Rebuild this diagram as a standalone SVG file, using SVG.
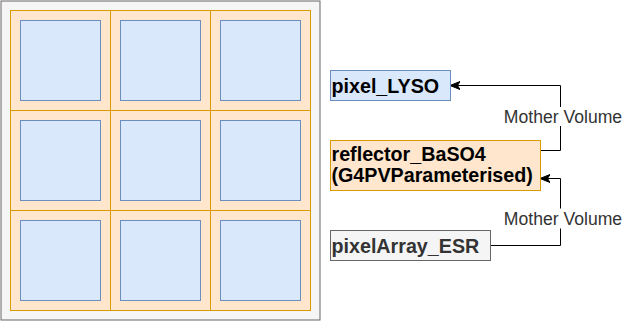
<svg xmlns="http://www.w3.org/2000/svg" width="625" height="321" viewBox="0 0 625 321">
  <style>
    .frame { fill: #f5f5f5; stroke: #666666; stroke-width: 1; }
    .cell { fill: #ffe6cc; stroke: #d79b00; stroke-width: 1; }
    .crystal { fill: #dae8fc; stroke: #6c8ebf; stroke-width: 1; }
    .box-blue { fill: #dae8fc; stroke: #6c8ebf; }
    .box-orange { fill: #ffe6cc; stroke: #d79b00; }
    .box-gray { fill: #f5f5f5; stroke: #666666; }
    .name { font-family: "Liberation Sans", Arial, sans-serif; font-size: 19.7px; font-weight: bold; fill: #000000; }
    .name-gray { fill: #333333; }
    .edge { fill: none; stroke: #000000; stroke-width: 1; }
    .edge-label-bg { fill: #ffffff; }
    .edge-label { font-family: "Liberation Sans", Arial, sans-serif; font-size: 17.6px; fill: #333333; text-anchor: middle; }
  </style>
  <defs>
    <marker id="arrow" viewBox="0 0 10 10" refX="9" refY="5" markerWidth="10" markerHeight="10" markerUnits="userSpaceOnUse" orient="auto">
      <path d="M0,1 L10,5 L0,9 L2.5,5 Z" fill="#000000" stroke="#000000" stroke-width="1"/>
    </marker>
  </defs>

  <!-- pixel array cross-section -->
  <g id="array">
    <rect class="frame" x="1" y="1" width="319" height="319"/>
    <g id="cells">
      <rect class="cell" x="10.5" y="10.5" width="100" height="100"/>
      <rect class="cell" x="110.5" y="10.5" width="100" height="100"/>
      <rect class="cell" x="210.5" y="10.5" width="100" height="100"/>
      <rect class="cell" x="10.5" y="110.5" width="100" height="100"/>
      <rect class="cell" x="110.5" y="110.5" width="100" height="100"/>
      <rect class="cell" x="210.5" y="110.5" width="100" height="100"/>
      <rect class="cell" x="10.5" y="210.5" width="100" height="100"/>
      <rect class="cell" x="110.5" y="210.5" width="100" height="100"/>
      <rect class="cell" x="210.5" y="210.5" width="100" height="100"/>
    </g>
    <g id="crystals">
      <rect class="crystal" x="20.5" y="20.5" width="80" height="80"/>
      <rect class="crystal" x="120.5" y="20.5" width="80" height="80"/>
      <rect class="crystal" x="220.5" y="20.5" width="80" height="80"/>
      <rect class="crystal" x="20.5" y="120.5" width="80" height="80"/>
      <rect class="crystal" x="120.5" y="120.5" width="80" height="80"/>
      <rect class="crystal" x="220.5" y="120.5" width="80" height="80"/>
      <rect class="crystal" x="20.5" y="220.5" width="80" height="80"/>
      <rect class="crystal" x="120.5" y="220.5" width="80" height="80"/>
      <rect class="crystal" x="220.5" y="220.5" width="80" height="80"/>
    </g>
  </g>

  <!-- connectors -->
  <g id="connectors">
    <path class="edge" d="M540.5,150.5 H560.5 V85.5 H451" marker-end="url(#arrow)"/>
    <path class="edge" d="M490.5,245.5 H560.5 V178.5 H541" marker-end="url(#arrow)"/>
    <rect class="edge-label-bg" x="499" y="107" width="124" height="19"/>
    <text class="edge-label" x="563" y="122.5">Mother Volume</text>
    <rect class="edge-label-bg" x="499" y="208.5" width="124" height="20"/>
    <text class="edge-label" x="563" y="224.5">Mother Volume</text>
  </g>

  <!-- volume nodes -->
  <g id="pixel_LYSO">
    <rect class="box-blue" x="330.5" y="70.5" width="120" height="30"/>
    <text class="name" x="331.5" y="93">pixel_LYSO</text>
  </g>
  <g id="reflector_BaSO4">
    <rect class="box-orange" x="330.5" y="140.5" width="210" height="50"/>
    <text class="name" x="331.5" y="160.5">reflector_BaSO4</text>
    <text class="name" x="331.5" y="182">(G4PVParameterised)</text>
  </g>
  <g id="pixelArray_ESR">
    <rect class="box-gray" x="330.5" y="230.5" width="160" height="30"/>
    <text class="name name-gray" x="331.5" y="253">pixelArray_ESR</text>
  </g>
</svg>
